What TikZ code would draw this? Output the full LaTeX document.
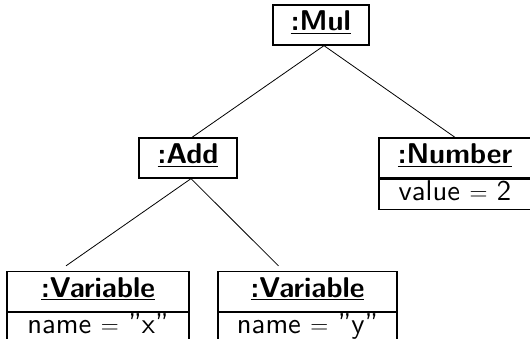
\documentclass[tikz,border=0pt]{standalone}
\usepackage{fontspec}
\newfontfamily\clsreg{lmsans10-regular.otf}
\newfontfamily\clsbold{lmsans10-bold.otf}
\tikzset{
  cls/.style={draw, line width=1.3pt, inner sep=0pt, minimum height=40pt,
    text height=20pt, text depth=8pt, font=\fontsize{28.6}{30}\clsbold},
  attr/.style={draw, line width=1.3pt, inner sep=0pt, minimum height=30pt, anchor=north,
    text height=20pt, text depth=8pt, font=\fontsize{28.6}{30}\clsreg},
  link/.style={line width=0.8pt}
}
\begin{document}
\begin{tikzpicture}[x=1pt,y=-1pt]
\useasboundingbox (0,0) rectangle (530,339);
\node[cls, minimum width=96pt] (mul) at (321,25) {\underline{:Mul}};
\node[cls, minimum width=98pt] (add) at (188,158) {\underline{:Add}};
\node[cls, minimum width=152pt] (num) at (455,158) {\underline{:Number}};
\node[attr, minimum width=152pt] (numv) at (num.south) {value $=$ 2};
\node[cls, minimum width=182pt] (var1) at (98,291.5) {\underline{:Variable}};
\node[attr, minimum width=182pt] (var1v) at (var1.south) {name $=$ ”x”};
\node[cls, minimum width=179pt] (var2) at (307.5,291.5) {\underline{:Variable}};
\node[attr, minimum width=179pt] (var2v) at (var2.south) {name $=$ ”y”};
\draw[link] ([xshift=3pt]mul.south) -- ([xshift=4pt]add.north);
\draw[link] ([xshift=3pt]mul.south) -- (num.north);
\draw[link] ([xshift=3pt]add.south) -- ([xshift=-32pt,yshift=5pt]var1.north);
\draw[link] ([xshift=3pt]add.south) -- ([xshift=-29pt,yshift=5pt]var2.north);
\end{tikzpicture}
\end{document}
